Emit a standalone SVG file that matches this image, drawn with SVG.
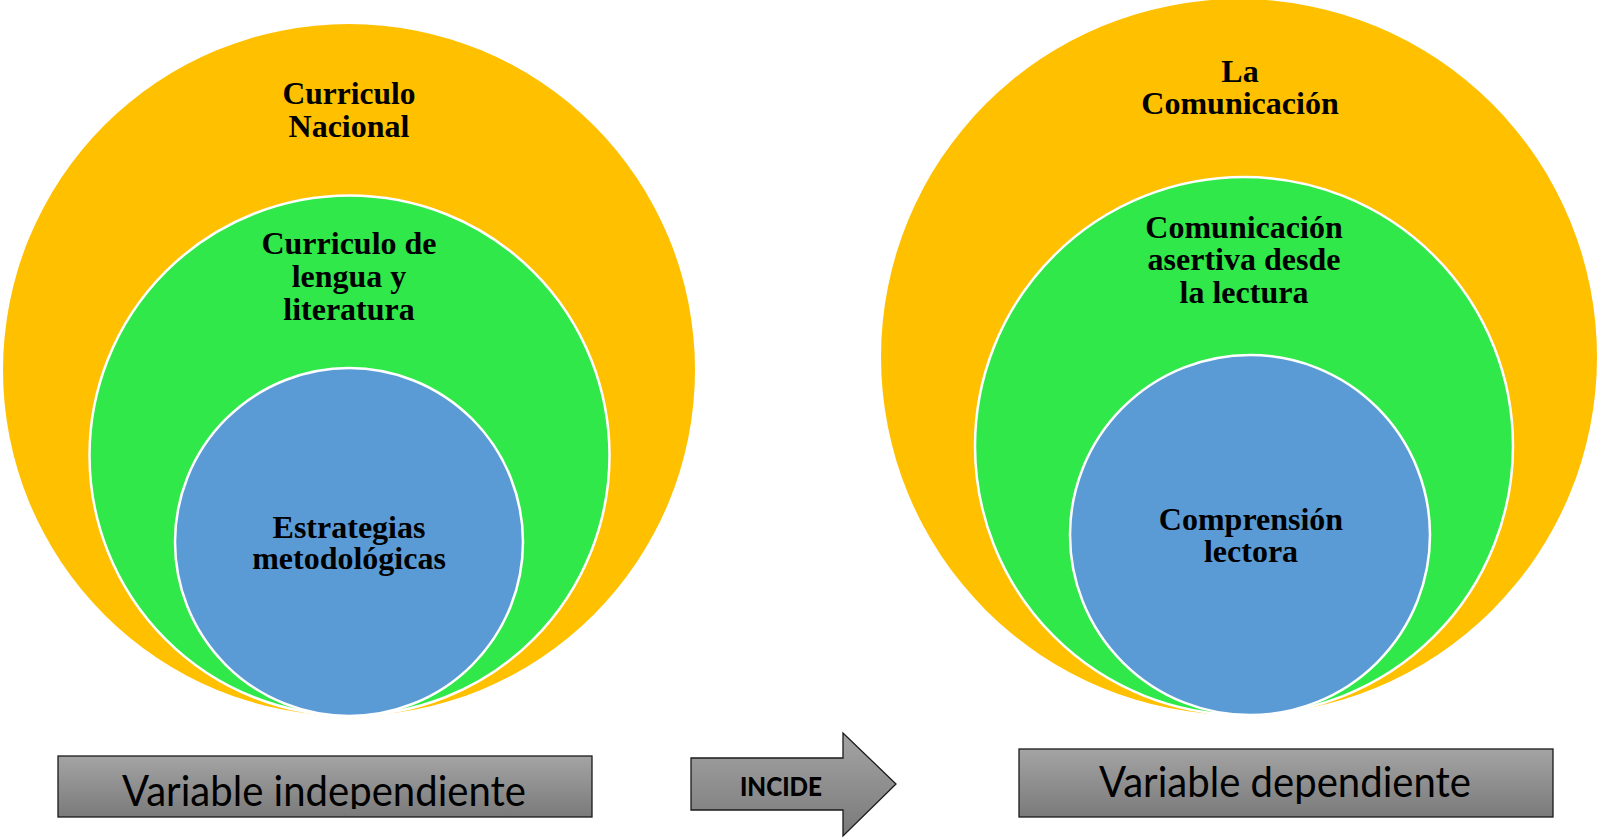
<svg xmlns="http://www.w3.org/2000/svg" width="1600" height="838" viewBox="0 0 1600 838">
  <defs>
    <linearGradient id="grayGrad" x1="0" y1="0" x2="0" y2="1">
      <stop offset="0" stop-color="#a4a4a4"/>
      <stop offset="1" stop-color="#7a7a7a"/>
    </linearGradient>
    <clipPath id="clipLeft"><rect x="58" y="756" width="534" height="53"/></clipPath>
    <clipPath id="clipRight"><rect x="1019" y="749" width="534" height="64"/></clipPath>
    <style>
      .orange { fill: #FFC000; }
      .green { fill: #31E84B; stroke: #ffffff; stroke-width: 2.5; }
      .blue { fill: #5B9BD5; stroke: #ffffff; stroke-width: 2.5; }
      .lbl { font-family: "Liberation Serif", "Times New Roman", serif; font-weight: bold; font-size: 32px; fill: #000000; text-anchor: middle; }
      .box { fill: url(#grayGrad); stroke: #1a1a1a; stroke-width: 1.3; }
      .boxtxt { font-family: Lato, "Open Sans", "Liberation Sans", sans-serif; font-size: 43px; fill: #000000; text-anchor: middle; }
      .arrtxt { font-family: Lato, "Open Sans", "Liberation Sans", sans-serif; font-weight: 900; font-size: 27px; fill: #000000; text-anchor: middle; }
    </style>
  </defs>
  <rect width="1600" height="838" fill="#ffffff"/>

  <g id="curriculo-nacional">
    <circle class="orange" cx="349" cy="370" r="346"/>
    <text class="lbl" x="349" y="104" textLength="133" lengthAdjust="spacingAndGlyphs">Curriculo</text>
    <text class="lbl" x="349" y="137">Nacional</text>
  </g>
  <g id="curriculo-lengua">
    <circle class="green" cx="349.5" cy="455.5" r="260"/>
    <text class="lbl" x="349" y="254">Curriculo de</text>
    <text class="lbl" x="349" y="287">lengua y</text>
    <text class="lbl" x="349" y="320">literatura</text>
  </g>
  <g id="estrategias">
    <circle class="blue" cx="349" cy="542" r="174"/>
    <text class="lbl" x="349" y="538">Estrategias</text>
    <text class="lbl" x="349" y="569">metodológicas</text>
  </g>

  <g id="la-comunicacion">
    <circle class="orange" cx="1239" cy="357" r="358"/>
    <text class="lbl" x="1240" y="82">La</text>
    <text class="lbl" x="1240" y="114">Comunicación</text>
  </g>
  <g id="comunicacion-asertiva">
    <circle class="green" cx="1244" cy="446" r="269"/>
    <text class="lbl" x="1244" y="238">Comunicación</text>
    <text class="lbl" x="1244" y="270">asertiva desde</text>
    <text class="lbl" x="1244" y="303">la lectura</text>
  </g>
  <g id="comprension-lectora">
    <circle class="blue" cx="1250" cy="535" r="180"/>
    <text class="lbl" x="1251" y="530">Comprensión</text>
    <text class="lbl" x="1251" y="562">lectora</text>
  </g>

  <g id="variable-independiente">
    <rect class="box" x="58" y="756" width="534" height="61"/>
    <text class="boxtxt" x="324" y="806" textLength="404" lengthAdjust="spacingAndGlyphs" clip-path="url(#clipLeft)">Variable independiente</text>
  </g>
  <g id="variable-dependiente">
    <rect class="box" x="1019" y="749" width="534" height="68"/>
    <text class="boxtxt" x="1285" y="797" textLength="372" lengthAdjust="spacingAndGlyphs" clip-path="url(#clipRight)">Variable dependiente</text>
  </g>

  <g id="connectors">
    <g id="incide-arrow">
      <path class="box" d="M691,758 L843,758 L843,733 L896,784 L843,836 L843,810 L691,810 Z"/>
      <text class="arrtxt" x="781" y="796" textLength="82" lengthAdjust="spacingAndGlyphs">INCIDE</text>
    </g>
  </g>
</svg>
